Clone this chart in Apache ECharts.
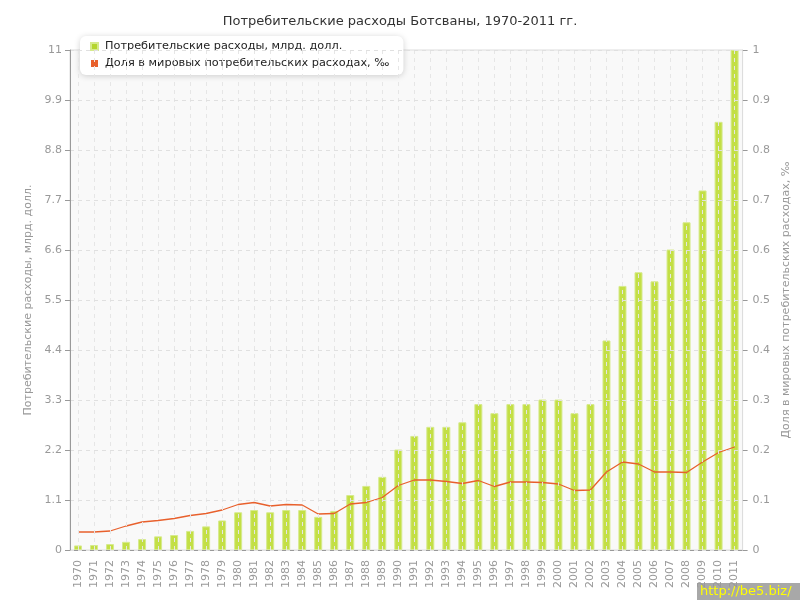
<!DOCTYPE html>
<html>
<head>
<meta charset="utf-8">
<script src="https://cdn.jsdelivr.net/npm/echarts@6/dist/echarts.min.js"></script>
<style>html,body{margin:0;padding:0;background:#fff}#c{width:800px;height:600px}</style>
</head>
<body>
<div id="c"></div>
<script>
const titleText = 'Потребительские расходы Ботсваны, 1970-2011 гг.';
const seriesNames = ['Потребительские расходы, млрд. долл.', 'Доля в мировых потребительских расходах, ‰'];
const years = ['1970','1971','1972','1973','1974','1975','1976','1977','1978','1979','1980','1981','1982','1983','1984','1985','1986','1987','1988','1989','1990','1991','1992','1993','1994','1995','1996','1997','1998','1999','2000','2001','2002','2003','2004','2005','2006','2007','2008','2009','2010','2011'];
const consumption = [0.10,0.11,0.13,0.18,0.24,0.30,0.33,0.42,0.52,0.65,0.83,0.88,0.83,0.88,0.88,0.73,0.86,1.21,1.41,1.61,2.21,2.51,2.71,2.71,2.81,3.21,3.01,3.21,3.21,3.31,3.31,3.01,3.21,4.61,5.81,6.11,5.91,6.61,7.21,7.91,9.42,11.0];
const share = [0.036,0.036,0.038,0.048,0.056,0.059,0.063,0.069,0.073,0.080,0.091,0.095,0.088,0.091,0.090,0.072,0.073,0.092,0.095,0.105,0.129,0.140,0.140,0.137,0.133,0.139,0.127,0.136,0.136,0.135,0.132,0.119,0.120,0.156,0.176,0.172,0.156,0.156,0.155,0.176,0.195,0.206];
const leftTicks = [0,1.1,2.2,3.3,4.4,5.5,6.6,7.7,8.8,9.9,11];
const rightTicks = [0,0.1,0.2,0.3,0.4,0.5,0.6,0.7,0.8,0.9,1];
const watermark = 'http://be5.biz/';

const FONT = 'DejaVu Sans';
const chart = echarts.init(document.getElementById('c'), null, {renderer:'canvas'});
const gridDash = {color:'#e0e0e0', type:[4,4], width:1};
chart.setOption({
  animation:false,
  textStyle:{fontFamily:FONT},
  title:{text:titleText, left:'center', top:10, textStyle:{fontFamily:FONT, fontSize:13, fontWeight:'normal', color:'#333'}},
  legend:{
    orient:'vertical', left:80, top:36, itemWidth:7, itemHeight:7, itemGap:6, icon:'rect',
    backgroundColor:'#fff', borderRadius:6, shadowBlur:6, shadowColor:'rgba(0,0,0,0.18)', shadowOffsetY:1,
    padding:[5,14,6,10],
    textStyle:{fontFamily:FONT, fontSize:11.3, color:'#222', padding:[0,0,0,2]},
    data:[{name:seriesNames[0], itemStyle:{color:'#b5d52e'}},{name:seriesNames[1], itemStyle:{color:'#e8602c'}}]
  },
  grid:{left:70, right:50, top:50, bottom:50, show:true, backgroundColor:'#f9f9f9', borderColor:'#dddddd', borderWidth:1},
  xAxis:{type:'category', data:years, boundaryGap:true,
     axisLine:{lineStyle:{color:'#999'}}, axisTick:{alignWithLabel:true, length:5, lineStyle:{color:'#999'}},
     axisLabel:{rotate:90, interval:0, margin:10, fontSize:11, color:'#999', fontFamily:FONT},
     splitLine:{show:false}},
  yAxis:[
    {type:'value', min:0, max:11, interval:1.1, z:10,
     name:seriesNames[0], nameLocation:'middle', nameGap:33, nameRotate:90,
     nameTextStyle:{fontFamily:FONT, fontSize:11, color:'#999'},
     axisLine:{show:true, lineStyle:{color:'#999'}}, axisTick:{show:true, length:5, lineStyle:{color:'#999'}},
     axisLabel:{fontSize:11, color:'#999', margin:8, fontFamily:FONT, formatter:v=>String(leftTicks[Math.round(v/1.1)])},
     splitLine:{show:true, lineStyle:gridDash}},
    {type:'value', min:0, max:1, interval:0.1, position:'right',
     name:seriesNames[1], nameLocation:'middle', nameGap:31, nameRotate:90,
     nameTextStyle:{fontFamily:FONT, fontSize:11, color:'#999'},
     axisLine:{show:true, lineStyle:{color:'#dddddd'}}, axisTick:{show:true, length:5, lineStyle:{color:'#999'}},
     axisLabel:{fontSize:11, color:'#999', margin:10, fontFamily:FONT, formatter:v=>String(rightTicks[Math.round(v*10)])},
     splitLine:{show:false}}
  ],
  series:[
    {name:seriesNames[0], type:'bar', yAxisIndex:0, data:consumption, barWidth:8,
     itemStyle:{color:'#c3df45', borderColor:'#d6ea8c', borderWidth:1},
     markLine:{silent:true, symbol:'none', label:{show:false}, animation:false,
       lineStyle:{color:'#e6e6e6', type:[4,4], width:1},
       data:years.map(y=>({xAxis:y}))}},
    {name:seriesNames[1], type:'line', yAxisIndex:1, data:share, symbol:'none',
     lineStyle:{color:'#e8602c', width:1.3}, itemStyle:{color:'#e8602c'}}
  ],
  graphic:[
    {type:'group', right:0, bottom:0, children:[
      {type:'rect', shape:{x:0, y:0, width:103, height:17}, style:{fill:'#a8a8a8'}},
      {type:'text', x:3, y:2, style:{text:watermark, fill:'#ffff00', font:'13px "DejaVu Sans"'}}
    ]}
  ]
});
</script>
</body>
</html>
